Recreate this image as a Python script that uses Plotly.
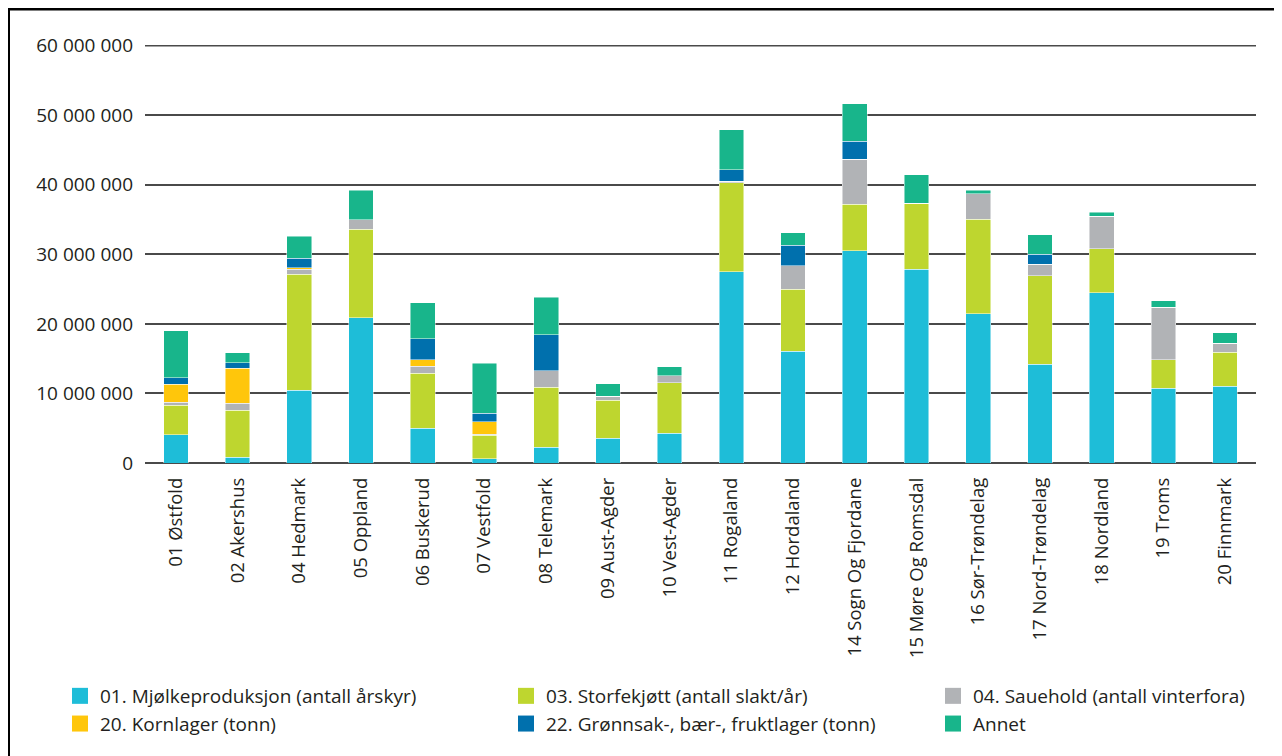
import plotly.graph_objects as go

categories = ["01 Østfold", "02 Akershus", "04 Hedmark", "05 Oppland", "06 Buskerud",
              "07 Vestfold", "08 Telemark", "09 Aust-Agder", "10 Vest-Agder", "11 Rogaland",
              "12 Hordaland", "14 Sogn Og Fjordane", "15 Møre Og Romsdal", "16 Sør-Trøndelag",
              "17 Nord-Trøndelag", "18 Nordland", "19 Troms", "20 Finnmark"]

mjolk = [4070000, 810000, 10430000, 20910000, 5020000, 620000, 2250000, 3540000, 4260000,
         27510000, 16080000, 30530000, 27850000, 21480000, 14210000, 24500000, 10720000, 11050000]
storfe = [4260000, 6800000, 16700000, 12680000, 7900000, 3400000, 8610000, 5500000, 7270000,
          12780000, 8900000, 6650000, 9470000, 13540000, 12730000, 6310000, 4160000, 4880000]
saue = [380000, 1000000, 720000, 1390000, 960000, 100000, 2440000, 580000, 1000000,
        190000, 3350000, 6500000, 0, 3690000, 1670000, 4640000, 7510000, 1290000]
korn = [2580000, 5020000, 190000, 0, 960000, 1820000, 0, 0, 0,
        0, 0, 0, 0, 0, 0, 0, 0, 0]
gronn = [1000000, 810000, 1390000, 0, 3060000, 1200000, 5170000, 0, 0,
         1670000, 2960000, 2590000, 0, 0, 1440000, 0, 0, 0]
annet = [6740000, 1390000, 3200000, 4210000, 5120000, 7220000, 5360000, 1770000, 1290000,
         5740000, 1820000, 5400000, 4120000, 520000, 2770000, 580000, 910000, 1490000]

series_names = ["01. Mjølkeproduksjon (antall årskyr)", "03. Storfekjøtt (antall slakt/år)",
                "04. Sauehold (antall vinterfora)", "20. Kornlager (tonn)",
                "22. Grønnsak-, bær-, fruktlager (tonn)", "Annet"]
series_values = [mjolk, storfe, saue, korn, gronn, annet]
colors = ["#1EBDD8", "#BED62F", "#B1B3B6", "#FFC60B", "#0070AD", "#18B58B"]
legend_ids = ["legend", "legend2", "legend3", "legend", "legend2", "legend3"]

tick_vals = [0, 10000000, 20000000, 30000000, 40000000, 50000000, 60000000]
tick_text = ["0", "10 000 000", "20 000 000", "30 000 000", "40 000 000", "50 000 000", "60 000 000"]

W, H = 1282, 756
ML, MT = 137, 37
PW, PH = 1111, 418
MR = W - ML - PW
MB = H - MT - PH

fig = go.Figure()
for name, vals, col in zip(series_names, series_values, colors):
    fig.add_trace(go.Bar(
        x=categories, y=vals, name=name, showlegend=False,
        marker=dict(color=col, line=dict(color="rgba(255,255,255,0.6)", width=0.8)),
    ))
# legend entries (square swatches)
for name, col, lg in zip(series_names, colors, legend_ids):
    fig.add_trace(go.Scatter(
        x=[None], y=[None], name=name, legend=lg, mode="markers",
        marker=dict(symbol="square", size=16, color=col),
    ))

font_fam = "Open Sans, sans-serif"
txt_col = "#231f20"
grid_col = "#4a4a4a"

def leg(xpx, ypx):
    return dict(
        xref="paper", yref="paper",
        x=(xpx - ML) / PW, y=(H - MB - ypx) / PH, xanchor="left", yanchor="top",
        orientation="v", bgcolor="rgba(0,0,0,0)",
        font=dict(family=font_fam, size=19, color=txt_col),
        traceorder="normal", itemclick=False, itemsizing="trace",
    )

fig.update_layout(
    width=W, height=H,
    margin=dict(l=ML, r=MR, t=MT, b=MB, autoexpand=False),
    barmode="stack", bargap=0.6,
    plot_bgcolor="white", paper_bgcolor="white",
    font=dict(family=font_fam, size=18, color=txt_col),
    legend=leg(52, 669), legend2=leg(498, 669), legend3=leg(925, 669),
    xaxis=dict(
        tickangle=-90, showgrid=False, showline=False, ticks="",
        tickfont=dict(family=font_fam, size=18.5, color=txt_col),
        ticklabelstandoff=10, automargin=False,
    ),
    yaxis=dict(
        range=[0, 60100000], tickvals=tick_vals, ticktext=tick_text,
        showgrid=True, gridcolor=grid_col, gridwidth=1.5,
        zeroline=True, zerolinecolor=grid_col, zerolinewidth=1.5,
        showline=False, ticks="", automargin=False,
        tickfont=dict(family=font_fam, size=19, color=txt_col),
        ticklabelstandoff=11,
    ),
    shapes=[
        dict(type="line", xref="paper", yref="y", x0=0, x1=1,
             y0=tick_vals[-1], y1=tick_vals[-1],
             line=dict(color=grid_col, width=1.5), layer="below"),
        dict(type="rect", xref="paper", yref="paper",
             x0=(0.5 - ML) / PW, x1=(W + 20 - ML) / PW,
             y0=(H - MB - 1.0) / PH, y1=-(MB + 20) / PH,
             line=dict(color="black", width=3), fillcolor="rgba(0,0,0,0)", layer="above"),
    ],
)

fig.write_html("out.html")
